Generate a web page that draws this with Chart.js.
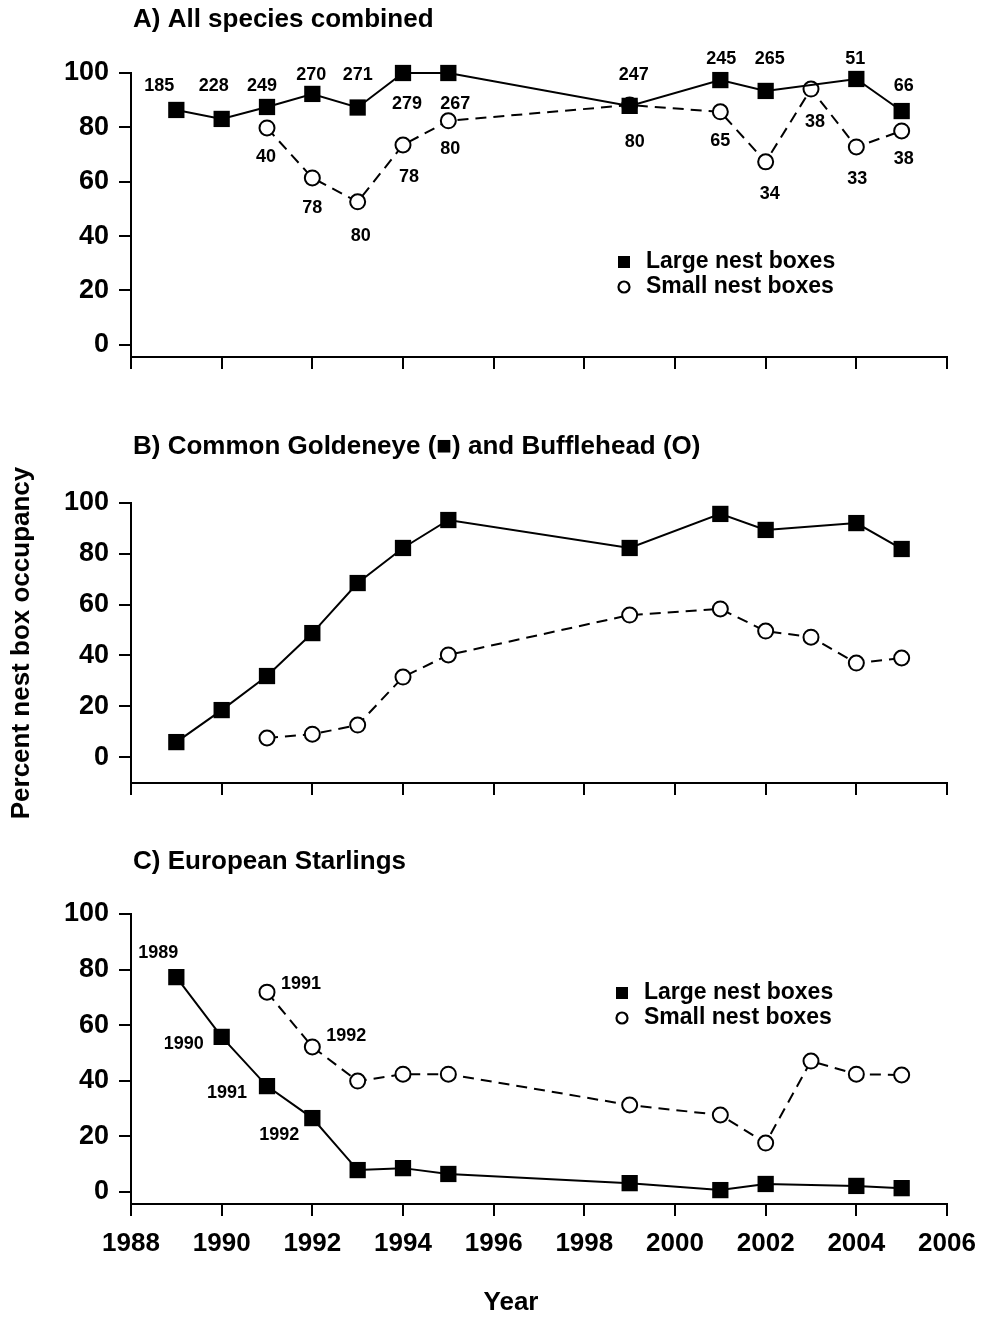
<!DOCTYPE html>
<html>
<head>
<meta charset="utf-8">
<script src="https://cdn.jsdelivr.net/npm/chart.js@4.4.1/dist/chart.umd.min.js"></script>
<style>
  body { margin: 0; background: #fff; }
  canvas { position: absolute; left: 0; }
</style>
</head>
<body>
<canvas id="chartA" width="982" height="375" style="top:0px"></canvas>
<canvas id="chartB" width="982" height="460" style="top:380px"></canvas>
<canvas id="chartC" width="982" height="507" style="top:810px"></canvas>
<script>
// years sampled by each box type (large boxes were not surveyed in 2003)
const largeYears = [1989, 1990, 1991, 1992, 1993, 1994, 1995, 1999, 2001, 2002, 2004, 2005];
const smallYears = [1991, 1992, 1993, 1994, 1995, 1999, 2001, 2002, 2003, 2004, 2005];

// A) All species combined
const largeAll = [86.4, 83.1, 87.5, 92.3, 87.3, 100, 100, 87.9, 97.4, 93.4, 97.8, 86];
const smallAll = [79.8, 61.4, 52.6, 73.5, 82.4, 88.2, 85.7, 67.3, 94.1, 72.8, 78.7];
const largeAllN = ['185', '228', '249', '270', '271', '279', '267', '247', '245', '265', '51', '66'];
const smallAllN = ['40', '78', '80', '78', '80', '80', '65', '34', '38', '33', '38'];

// B) Common Goldeneye (large) and Bufflehead (small)
const largeDucks = [5.9, 18.5, 31.9, 48.8, 68.5, 82.3, 93.3, 82.3, 95.7, 89.4, 92.1, 81.9];
const smallDucks = [7.5, 9, 12.6, 31.5, 40.2, 55.9, 58.3, 49.6, 47.2, 37, 39];

// C) European Starlings
const largeStarlings = [77.3, 55.8, 38.1, 26.6, 7.9, 8.6, 6.5, 3.2, 0.7, 2.9, 2.2, 1.4];
const smallStarlings = [71.9, 52.2, 39.9, 42.4, 42.4, 31.3, 27.7, 17.6, 47.1, 42.4, 42.1];
const largeStarlingsYr = ['1989', '1990', '1991', '1992', null, null, null, null, null, null, null, null];
const smallStarlingsYr = ['1991', '1992', null, null, null, null, null, null, null, null, null];

const titles = [
  'A) All species combined',
  'B) Common Goldeneye (\u25A0) and Bufflehead (O)',
  'C) European Starlings'
];
const legendNames = ['Large nest boxes', 'Small nest boxes'];
const yTitle = 'Percent nest box occupancy';
const xTitle = 'Year';

// label offsets from their point, in pixels
const offLargeA = [[-17, -24], [-8, -33], [-5, -21], [-1, -19], [0, -32], [4, 31], [7, 31], [4, -31], [1, -21], [4, -32], [-1, -20], [2, -25]];
const offSmallA = [[-1, 29], [0, 30], [3, 34], [6, 32], [2, 28], [5, 37], [0, 29], [4, 32], [4, 33], [1, 32], [2, 28]];
const offLargeC = [[-18, -24], [-38, 7], [-40, 7], [-33, 17]];
const offSmallC = [[34, -8], [34, -11]];

const FONT = '"Liberation Sans", Arial, Helvetica, sans-serif';
Chart.defaults.font.family = FONT;
Chart.defaults.color = '#000';

function toPoints(years, values) {
  return years.map((yr, i) => ({ x: yr, y: values[i] }));
}

function makeDatasets(largeVals, smallVals) {
  return [
    {
      label: legendNames[0],
      data: toPoints(largeYears, largeVals),
      borderColor: '#000',
      borderWidth: 2,
      pointStyle: 'rect',
      pointRadius: 11.5,
      pointBackgroundColor: '#000',
      pointBorderWidth: 0,
      clip: false
    },
    {
      label: legendNames[1],
      data: toPoints(smallYears, smallVals),
      borderColor: '#000',
      borderWidth: 2,
      borderDash: [11, 7],
      pointStyle: 'circle',
      pointRadius: 7.5,
      pointBackgroundColor: '#fff',
      pointBorderColor: '#000',
      pointBorderWidth: 2,
      clip: false
    }
  ];
}

// number / year labels next to the points
function labelPlugin(sets) {
  return {
    id: 'pointLabels',
    afterDatasetsDraw(chart) {
      const ctx = chart.ctx;
      ctx.save();
      ctx.font = 'bold 18px ' + FONT;
      ctx.fillStyle = '#000';
      ctx.textAlign = 'center';
      ctx.textBaseline = 'middle';
      sets.forEach(set => {
        const meta = chart.getDatasetMeta(set.dataset);
        set.text.forEach((t, i) => {
          if (t === null) return;
          const p = meta.data[i];
          const off = set.offsets[i];
          ctx.fillText(t, p.x + off[0], p.y + off[1]);
        });
      });
      ctx.restore();
    }
  };
}

// panel title, optional legend and x-axis title
function decorPlugin(cfg) {
  return {
    id: 'decor',
    afterDraw(chart) {
      const ctx = chart.ctx;
      ctx.save();
      ctx.fillStyle = '#000';
      ctx.textBaseline = 'middle';
      ctx.textAlign = 'left';
      ctx.font = 'bold 26px ' + FONT;
      ctx.fillText(cfg.title, 133, cfg.titleY);
      if (cfg.legend) {
        const lx = cfg.legend.x, ly = cfg.legend.y;
        ctx.fillRect(lx - 6, ly - 6, 12, 12);
        ctx.beginPath();
        ctx.arc(lx, ly + 25, 5.5, 0, Math.PI * 2);
        ctx.lineWidth = 2.2;
        ctx.strokeStyle = '#000';
        ctx.stroke();
        ctx.font = 'bold 23px ' + FONT;
        ctx.fillText(legendNames[0], lx + 22, ly);
        ctx.fillText(legendNames[1], lx + 22, ly + 25);
      }
      if (cfg.xTitle) {
        ctx.textAlign = 'center';
        ctx.font = 'bold 26px ' + FONT;
        ctx.fillText(cfg.xTitle, 511, cfg.xTitleY);
      }
      ctx.restore();
    }
  };
}

function makeChart(id, opts) {
  return new Chart(document.getElementById(id), {
    type: 'line',
    data: { datasets: makeDatasets(opts.large, opts.small) },
    options: {
      responsive: false,
      animation: false,
      devicePixelRatio: 1,
      layout: { padding: { left: 0, right: 35, top: opts.padTop, bottom: opts.padBottom } },
      plugins: { legend: { display: false }, tooltip: { enabled: false } },
      scales: {
        x: {
          type: 'linear',
          min: 1988,
          max: 2006,
          afterFit: s => { s.height = opts.xHeight; s.paddingLeft = 0; s.paddingRight = 0; },
          border: { display: true, color: '#000', width: 2 },
          grid: { drawOnChartArea: false, drawTicks: true, tickLength: 12, color: '#000', lineWidth: 2 },
          ticks: {
            display: opts.xLabels,
            stepSize: 2,
            padding: 12,
            maxRotation: 0,
            autoSkip: false,
            font: { size: 26, weight: 'bold' },
            callback: v => String(v)
          }
        },
        y: {
          min: opts.yMin,
          max: 100,
          afterFit: s => { s.width = 131; s.paddingTop = 0; s.paddingBottom = 0; },
          border: { display: true, color: '#000', width: 2 },
          grid: { drawOnChartArea: false, drawTicks: true, tickLength: 12, color: '#000', lineWidth: 2 },
          ticks: { stepSize: 20, includeBounds: false, padding: 10, font: { size: 27, weight: 'bold' } },
          title: {
            display: !!opts.yTitle,
            text: opts.yTitle || '',
            font: { size: 26, weight: 'bold' },
            padding: { top: 6, bottom: 0 }
          }
        }
      }
    },
    plugins: [labelPlugin(opts.labels), decorPlugin(opts.decor)]
  });
}

makeChart('chartA', {
  large: largeAll, small: smallAll, yMin: -4.5,
  padTop: 73, padBottom: 3, xHeight: 15, xLabels: false,
  labels: [
    { dataset: 0, text: largeAllN, offsets: offLargeA },
    { dataset: 1, text: smallAllN, offsets: offSmallA }
  ],
  decor: { title: titles[0], titleY: 20, legend: { x: 624, y: 262 } }
});

makeChart('chartB', {
  large: largeDucks, small: smallDucks, yMin: -10.2,
  padTop: 123, padBottom: 42, xHeight: 15, xLabels: false, yTitle: yTitle,
  labels: [],
  decor: { title: titles[1], titleY: 67 }
});

makeChart('chartC', {
  large: largeStarlings, small: smallStarlings, yMin: -4.3,
  padTop: 104, padBottom: 0, xHeight: 113, xLabels: true,
  labels: [
    { dataset: 0, text: largeStarlingsYr, offsets: offLargeC },
    { dataset: 1, text: smallStarlingsYr, offsets: offSmallC }
  ],
  decor: { title: titles[2], titleY: 52, legend: { x: 622, y: 183 }, xTitle: xTitle, xTitleY: 493 }
});
</script>
</body>
</html>
